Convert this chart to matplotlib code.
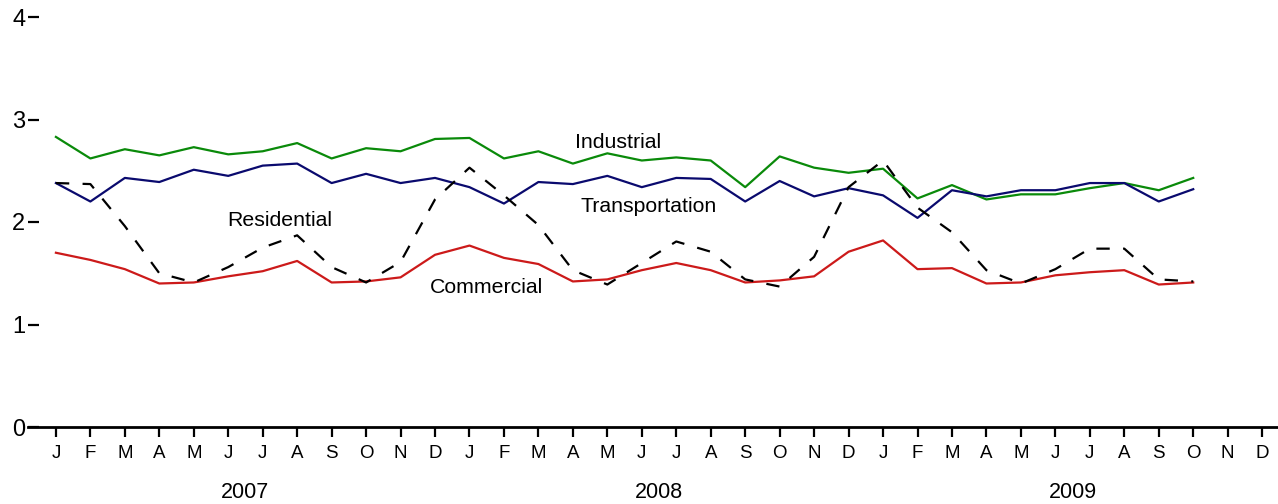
import numpy as np
import matplotlib
matplotlib.use("Agg")
import matplotlib.pyplot as plt
import matplotlib.transforms as mtransforms

plt.rcParams["font.family"] = ["Liberation Sans", "DejaVu Sans"]

months = ["J", "F", "M", "A", "M", "J", "J", "A", "S", "O", "N", "D"] * 3
years = ["2007", "2008", "2009"]

industrial = [2.83, 2.62, 2.71, 2.65, 2.73, 2.66, 2.69, 2.77, 2.62, 2.72, 2.69, 2.81,
              2.82, 2.62, 2.69, 2.57, 2.67, 2.60, 2.63, 2.60, 2.34, 2.64, 2.53, 2.48,
              2.52, 2.23, 2.36, 2.22, 2.27, 2.27, 2.33, 2.38, 2.31, 2.43]
transportation = [2.38, 2.20, 2.43, 2.39, 2.51, 2.45, 2.55, 2.57, 2.38, 2.47, 2.38, 2.43,
                  2.34, 2.18, 2.39, 2.37, 2.45, 2.34, 2.43, 2.42, 2.20, 2.40, 2.25, 2.33,
                  2.26, 2.04, 2.31, 2.25, 2.31, 2.31, 2.38, 2.38, 2.20, 2.32]
residential = [2.38, 2.37, 1.96, 1.50, 1.41, 1.56, 1.75, 1.87, 1.56, 1.41, 1.61, 2.22,
               2.53, 2.26, 1.97, 1.53, 1.39, 1.60, 1.81, 1.71, 1.44, 1.37, 1.66, 2.34,
               2.60, 2.14, 1.90, 1.53, 1.40, 1.54, 1.74, 1.74, 1.44, 1.42]
commercial = [1.70, 1.63, 1.54, 1.40, 1.41, 1.47, 1.52, 1.62, 1.41, 1.42, 1.46, 1.68,
              1.77, 1.65, 1.59, 1.42, 1.44, 1.53, 1.60, 1.53, 1.41, 1.43, 1.47, 1.71,
              1.82, 1.54, 1.55, 1.40, 1.41, 1.48, 1.51, 1.53, 1.39, 1.41]

fig = plt.figure(figsize=(12.78, 5.04), dpi=100)
ax = fig.add_axes([28 / 1278, 77 / 504, 1250 / 1278, 410 / 504])

x = np.arange(len(industrial))
ax.plot(x, industrial, color="#0a8a0a", lw=1.6)
ax.plot(x, transportation, color="#0a0a6e", lw=1.6)
ax.plot(x, commercial, color="#cc1a1a", lw=1.6)
ax.plot(x, residential, color="black", lw=1.6, dashes=(6, 6))

ax.text(16.3, 2.78, "Industrial", ha="center", va="center", fontsize=15.3)
ax.text(17.2, 2.15, "Transportation", ha="center", va="center", fontsize=15.3)
ax.text(6.5, 2.01, "Residential", ha="center", va="center", fontsize=15.3)
ax.text(12.5, 1.36, "Commercial", ha="center", va="center", fontsize=15.3)

ax.set_xlim(-0.81, 35.46)
ax.set_ylim(0, 4)

for s in ["left", "top", "right"]:
    ax.spines[s].set_visible(False)
ax.spines["bottom"].set_linewidth(2)

ax.set_yticks([0, 1, 2, 3, 4])
ax.tick_params(axis="y", direction="in", length=8, width=1.6, labelsize=17, pad=2)
ax.set_xticks(np.arange(36))
ax.set_xticklabels(months)
ax.tick_params(axis="x", direction="out", length=7, width=1.6, labelsize=13.5, pad=6)

trans = mtransforms.blended_transform_factory(ax.transData, fig.transFigure)
for i, yr in enumerate(years):
    fig.text(5.5 + 12 * i, 12 / 504, yr, transform=trans, ha="center", va="center", fontsize=15.5)

fig.savefig("out.png", dpi=100)
